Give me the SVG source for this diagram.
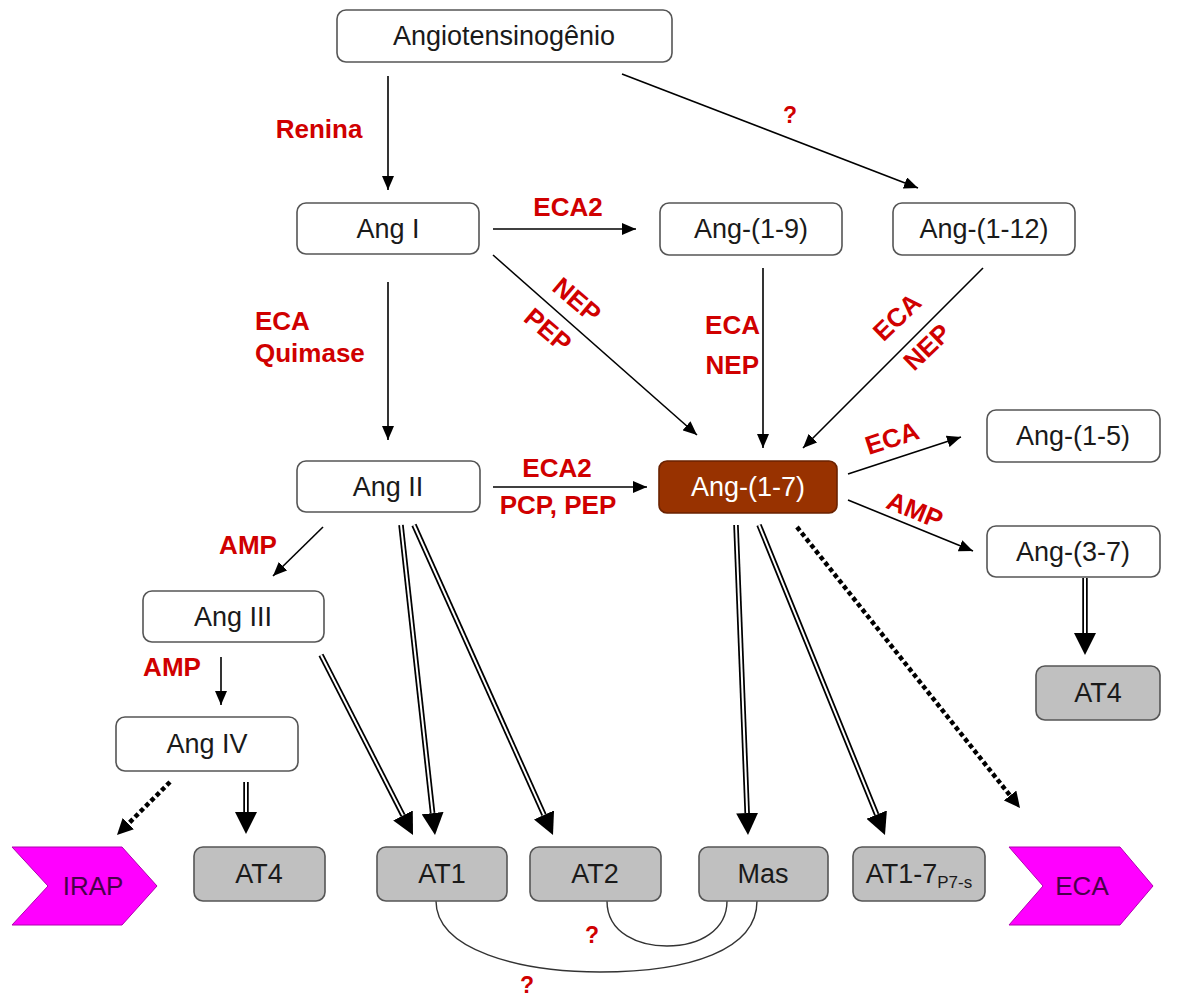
<svg xmlns="http://www.w3.org/2000/svg" width="1179" height="996" viewBox="0 0 1179 996">
<style>
.n rect{fill:#fff;stroke:#555;stroke-width:1.6}
.g rect{fill:#c0c0c0;stroke:#555;stroke-width:1.6}
.n text,.g text{font-family:"Liberation Sans",Arial,sans-serif;font-size:27px;fill:#1a1a1a;text-anchor:middle}
.lab{font-family:"Liberation Sans",Arial,sans-serif;font-size:26px;font-weight:bold;fill:#d00000;text-anchor:middle}
.q{font-size:23px}
.thin{stroke:#000;stroke-width:1.6;fill:none;marker-end:url(#ah)}
.dblo{stroke:#000;stroke-width:5.5;fill:none;marker-end:url(#bh)}
.dbli{stroke:#fff;stroke-width:2;fill:none}
.dot{stroke:#000;stroke-width:4.5;stroke-dasharray:4.5 3;fill:none;marker-end:url(#dh)}
.arc{stroke:#333;stroke-width:1.4;fill:none}
.chev{fill:#ff00ff;stroke:#b000b0;stroke-width:1}
.chevt{font-family:"Liberation Sans",Arial,sans-serif;font-size:26px;fill:#4a004a;text-anchor:middle}
</style>
<defs>
<marker id="ah" markerUnits="userSpaceOnUse" viewBox="0 -6 14 12" refX="14" refY="0" markerWidth="14" markerHeight="12" orient="auto"><path d="M0,-6 L14,0 L0,6 z" fill="#000"/></marker>
<marker id="bh" markerUnits="userSpaceOnUse" viewBox="0 -11 22 22" refX="0" refY="0" markerWidth="22" markerHeight="22" orient="auto"><path d="M0,-11 L22,0 L0,11 z" fill="#000"/></marker>
<marker id="dh" markerUnits="userSpaceOnUse" viewBox="0 -8 16 16" refX="0" refY="0" markerWidth="16" markerHeight="16" orient="auto"><path d="M0,-8 L16,0 L0,8 z" fill="#000"/></marker>
</defs>

<g id="connectors">
<line class="thin" x1="388" y1="76" x2="388" y2="190"/>
<line class="thin" x1="622" y1="74" x2="918" y2="188"/>
<line class="thin" x1="493" y1="229" x2="636" y2="229"/>
<line class="thin" x1="493" y1="255" x2="697" y2="435"/>
<line class="thin" x1="388" y1="282" x2="388" y2="440"/>
<line class="thin" x1="763" y1="268" x2="763" y2="448"/>
<line class="thin" x1="983" y1="268" x2="803" y2="448"/>
<line class="thin" x1="493" y1="487" x2="647" y2="487"/>
<line class="thin" x1="848" y1="474" x2="961" y2="437"/>
<line class="thin" x1="848" y1="500" x2="973" y2="551"/>
<line class="thin" x1="323" y1="527" x2="273" y2="576"/>
<line class="thin" x1="221" y1="657" x2="221" y2="705"/>

<line class="dblo" x1="321" y1="655" x2="403.0" y2="815.4"/><line class="dbli" x1="321" y1="655" x2="403.0" y2="815.4"/>
<line class="dblo" x1="401" y1="525" x2="432.6" y2="813.1"/><line class="dbli" x1="401" y1="525" x2="432.6" y2="813.1"/>
<line class="dblo" x1="414" y1="525" x2="544.0" y2="814.9"/><line class="dbli" x1="414" y1="525" x2="544.0" y2="814.9"/>
<line class="dblo" x1="736" y1="525" x2="747.15" y2="813.0"/><line class="dbli" x1="736" y1="525" x2="747.15" y2="813.0"/>
<line class="dblo" x1="759" y1="525" x2="876.7" y2="814.6"/><line class="dbli" x1="759" y1="525" x2="876.7" y2="814.6"/>
<line class="dblo" x1="246" y1="782" x2="246" y2="812"/><line class="dbli" x1="246" y1="782" x2="246" y2="812"/>
<line class="dblo" x1="1085" y1="578" x2="1085" y2="633"/><line class="dbli" x1="1085" y1="578" x2="1085" y2="633"/>

<line class="dot" x1="170" y1="782" x2="128.3" y2="823.7"/>
<line class="dot" x1="797" y1="527" x2="1010.05" y2="795.5"/>

<path class="arc" d="M436,901 C436,950 520,972 600,972 C690,972 757,950 757,901"/>
<path class="arc" d="M607,901 C607,934 640,946 667,946 C700,946 727,930 727,901"/>
</g>

<g id="labels">
<text class="lab" x="319" y="138">Renina</text>
<text class="lab q" x="790" y="123">?</text>
<text class="lab" x="568" y="216">ECA2</text>
<text class="lab" transform="translate(577,300) rotate(40.5)" y="9">NEP</text>
<text class="lab" transform="translate(548,330) rotate(40.5)" y="9">PEP</text>
<text class="lab" x="255" y="330" style="text-anchor:start">ECA</text>
<text class="lab" x="255" y="362" style="text-anchor:start">Quimase</text>
<text class="lab" x="760" y="334" style="text-anchor:end">ECA</text>
<text class="lab" x="759" y="374" style="text-anchor:end">NEP</text>
<text class="lab" transform="translate(897,317) rotate(-44)" y="9">ECA</text>
<text class="lab" transform="translate(927,347) rotate(-44)" y="9">NEP</text>
<text class="lab" x="557" y="477">ECA2</text>
<text class="lab" x="558" y="514">PCP, PEP</text>
<text class="lab" transform="translate(892,438) rotate(-18)" y="9">ECA</text>
<text class="lab" transform="translate(915,510) rotate(22)" y="9">AMP</text>
<text class="lab" x="248" y="554">AMP</text>
<text class="lab" x="172" y="676">AMP</text>
<text class="lab q" x="592" y="943">?</text>
<text class="lab q" x="527" y="993">?</text>
</g>

<g id="angiotensinogenio" class="n"><rect x="337" y="10" width="335" height="52" rx="9"/><text x="504" y="45">Angiotensinogênio</text></g>
<g id="angI" class="n"><rect x="297" y="203" width="182" height="51" rx="9"/><text x="388" y="238">Ang I</text></g>
<g id="ang1-9" class="n"><rect x="660" y="203" width="182" height="52" rx="9"/><text x="751" y="238">Ang-(1-9)</text></g>
<g id="ang1-12" class="n"><rect x="893" y="203" width="182" height="52" rx="9"/><text x="984" y="238">Ang-(1-12)</text></g>
<g id="angII" class="n"><rect x="297" y="461" width="183" height="51" rx="9"/><text x="388" y="496">Ang II</text></g>
<g id="ang1-7"><rect x="659" y="461" width="178" height="52" rx="8" fill="#983200" stroke="#6a2200" stroke-width="1.6"/><text x="748" y="496" style="font-family:'Liberation Sans',Arial,sans-serif;font-size:27px;fill:#fff;text-anchor:middle">Ang-(1-7)</text></g>
<g id="ang1-5" class="n"><rect x="987" y="410" width="173" height="52" rx="9"/><text x="1073" y="445">Ang-(1-5)</text></g>
<g id="ang3-7" class="n"><rect x="987" y="526" width="173" height="51" rx="9"/><text x="1073" y="561">Ang-(3-7)</text></g>
<g id="at4r" class="g"><rect x="1036" y="666" width="124" height="54" rx="9"/><text x="1098" y="702">AT4</text></g>
<g id="angIII" class="n"><rect x="143" y="591" width="181" height="51" rx="9"/><text x="233" y="626">Ang III</text></g>
<g id="angIV" class="n"><rect x="116" y="717" width="182" height="54" rx="9"/><text x="207" y="753">Ang IV</text></g>

<g id="irap"><polygon class="chev" points="12,847 122,847 157,886 122,925 12,925 48,886"/><text class="chevt" x="93" y="895">IRAP</text></g>
<g id="at4" class="g"><rect x="194" y="847" width="131" height="54" rx="9"/><text x="259" y="883">AT4</text></g>
<g id="at1" class="g"><rect x="377" y="847" width="130" height="54" rx="9"/><text x="442" y="883">AT1</text></g>
<g id="at2" class="g"><rect x="530" y="847" width="131" height="54" rx="9"/><text x="595" y="883">AT2</text></g>
<g id="mas" class="g"><rect x="699" y="847" width="129" height="54" rx="9"/><text x="763" y="883">Mas</text></g>
<g id="at1-7" class="g"><rect x="853" y="847" width="132" height="54" rx="9"/><text x="919" y="883">AT1-7<tspan style="font-size:17px" dy="5">P7-s</tspan></text></g>
<g id="eca"><polygon class="chev" points="1009,847 1120,847 1153,886 1120,925 1009,925 1043,886"/><text class="chevt" x="1082" y="895">ECA</text></g>
</svg>
